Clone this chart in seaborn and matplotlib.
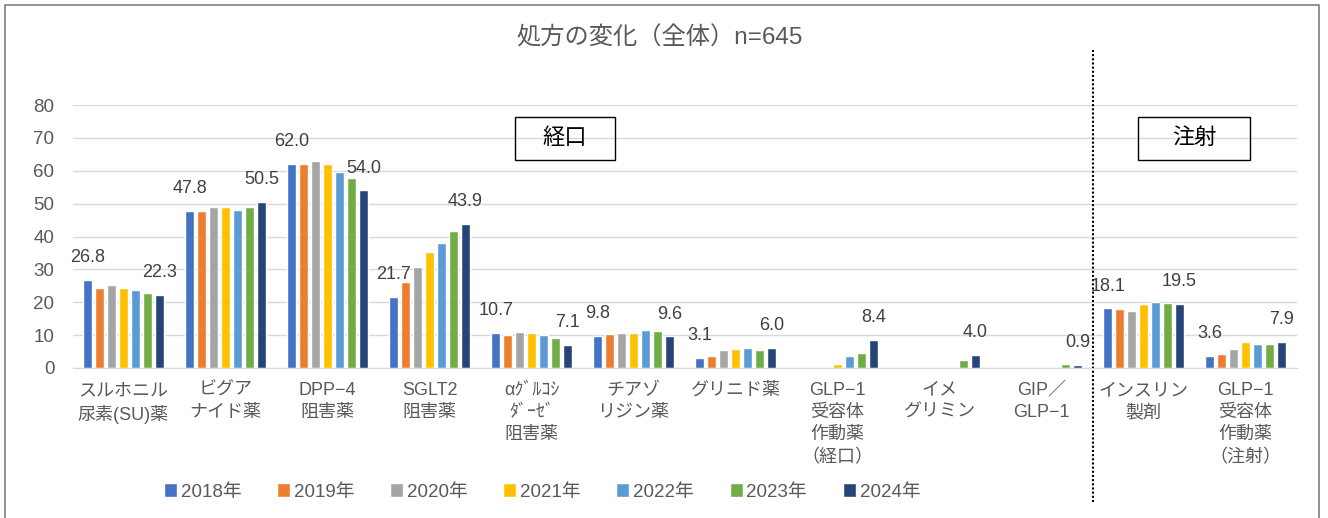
import numpy as np
import pandas as pd
import matplotlib
matplotlib.use("Agg")
import matplotlib.pyplot as plt
import seaborn as sns
from matplotlib.patches import Rectangle

# categories (x axis), multi-line labels as shown
categories = [
    "スルホニル\n尿素(SU)薬",
    "ビグア\nナイド薬",
    "DPP−4\n阻害薬",
    "SGLT2\n阻害薬",
    "αｸﾞﾙｺｼ\nﾀﾞｰｾﾞ\n阻害薬",
    "チアゾ\nリジン薬",
    "グリニド薬",
    "GLP−1\n受容体\n作動薬\n（経口）",
    "イメ\nグリミン",
    "GIP／\nGLP−1",
    "インスリン\n製剤",
    "GLP−1\n受容体\n作動薬\n（注射）",
]
years = ["2018年", "2019年", "2020年", "2021年", "2022年", "2023年", "2024年"]

nan = np.nan
v2018 = [26.8, 47.8, 62.0, 21.7, 10.7, 9.8, 3.1, nan, nan, nan, 18.1, 3.6]
v2019 = [24.4, 47.8, 62.1, 26.1, 9.9, 10.2, 3.5, nan, nan, nan, 18.0, 4.2]
v2020 = [25.2, 49.0, 63.1, 30.8, 10.9, 10.6, 5.4, nan, nan, nan, 17.4, 5.7]
v2021 = [24.3, 49.0, 62.1, 35.3, 10.6, 10.6, 5.8, 1.1, nan, nan, 19.6, 7.9]
v2022 = [23.7, 48.2, 59.6, 38.1, 9.9, 11.6, 6.0, 3.6, nan, nan, 20.0, 7.2]
v2023 = [22.9, 49.0, 57.8, 41.6, 9.1, 11.4, 5.6, 4.7, 2.5, 1.3, 19.7, 7.4]
v2024 = [22.3, 50.5, 54.0, 43.9, 7.1, 9.6, 6.0, 8.4, 4.0, 0.9, 19.5, 7.9]
values = [v2018, v2019, v2020, v2021, v2022, v2023, v2024]

colors = ["#4472C4", "#ED7D31", "#A5A5A5", "#FFC000", "#5B9BD5", "#70AD47", "#264478"]
text_gray = "#595959"

rows = []
for year, vals in zip(years, values):
    for cat, v in zip(categories, vals):
        rows.append({"cat": cat, "year": year, "value": v})
df = pd.DataFrame(rows)

sns.set_style("white")
plt.rcParams['font.family'] = ['Liberation Sans', 'Noto Sans CJK JP']

W, H = 1328, 518
fig = plt.figure(figsize=(W / 100, H / 100), dpi=100)
ax = fig.add_axes([72.5 / W, 1 - 368 / H, 1224 / W, 263 / H])

sns.barplot(data=df, x="cat", y="value", hue="year", hue_order=years,
            order=categories, palette=colors, saturation=1, width=0.82,
            gap=0.28, errorbar=None, ax=ax)

# data labels for first and last year only
for idx in (0, len(years) - 1):
    cont = ax.containers[idx]
    labels = [f"{v:.1f}" if np.isfinite(v) else "" for v in cont.datavalues]
    ax.bar_label(cont, labels=labels, padding=10, fontsize=13, color="#404040")

ax.set_ylim(0, 80)
ax.set_xlim(-0.5, len(categories) - 0.5)
ax.set_yticks(range(0, 81, 10))
ax.set_xlabel("")
ax.set_ylabel("")
ax.grid(axis="y", color="#D9D9D9", lw=1)
ax.set_axisbelow(True)
for s in ("left", "top", "right"):
    ax.spines[s].set_visible(False)
ax.spines["bottom"].set_color("#D9D9D9")
ax.tick_params(axis="both", length=0, labelsize=13.5, labelcolor=text_gray)
ax.tick_params(axis="y", pad=13)
ax.tick_params(axis="x", pad=10)
for lbl in ax.get_xticklabels():
    lbl.set_linespacing(1.4)
    lbl.set_fontsize(13)

handles, labels = ax.get_legend_handles_labels()
ax.legend(handles, labels, loc="center", bbox_to_anchor=(542 / W, 1 - 492 / H),
          bbox_transform=fig.transFigure, ncol=7, frameon=False,
          handlelength=0.7, handleheight=0.7, handletextpad=0.2,
          columnspacing=1.9, fontsize=13.5, labelcolor=text_gray)

# dotted separator between oral and injection
ax.plot([9.5, 9.5], [-0.51, 1.21], transform=ax.get_xaxis_transform(),
        clip_on=False, color="black", lw=1.5, linestyle=(0, (1, 1)))

# section boxes
for label, x0, x1 in [("経口", 515, 615), ("注射", 1138, 1250)]:
    fig.add_artist(Rectangle((x0 / W, 1 - 160 / H), (x1 - x0) / W, 43 / H,
                             transform=fig.transFigure, fill=False,
                             edgecolor="black", lw=1))
    fig.text((x0 + x1) / 2 / W, 1 - 139 / H, label, ha="center", va="center",
             fontsize=16, color="black")

fig.text(660 / W, 1 - 38 / H, "処方の変化（全体）n=645", ha="center",
         va="center", fontsize=17.5, color=text_gray)

# outer frame
fig.add_artist(Rectangle((5 / W, -0.1), 1314 / W, 1 - 5 / H + 0.1,
                         transform=fig.transFigure, fill=False,
                         edgecolor="#7F7F7F", lw=1.2, clip_on=False))

fig.savefig("out.png", dpi=100)
